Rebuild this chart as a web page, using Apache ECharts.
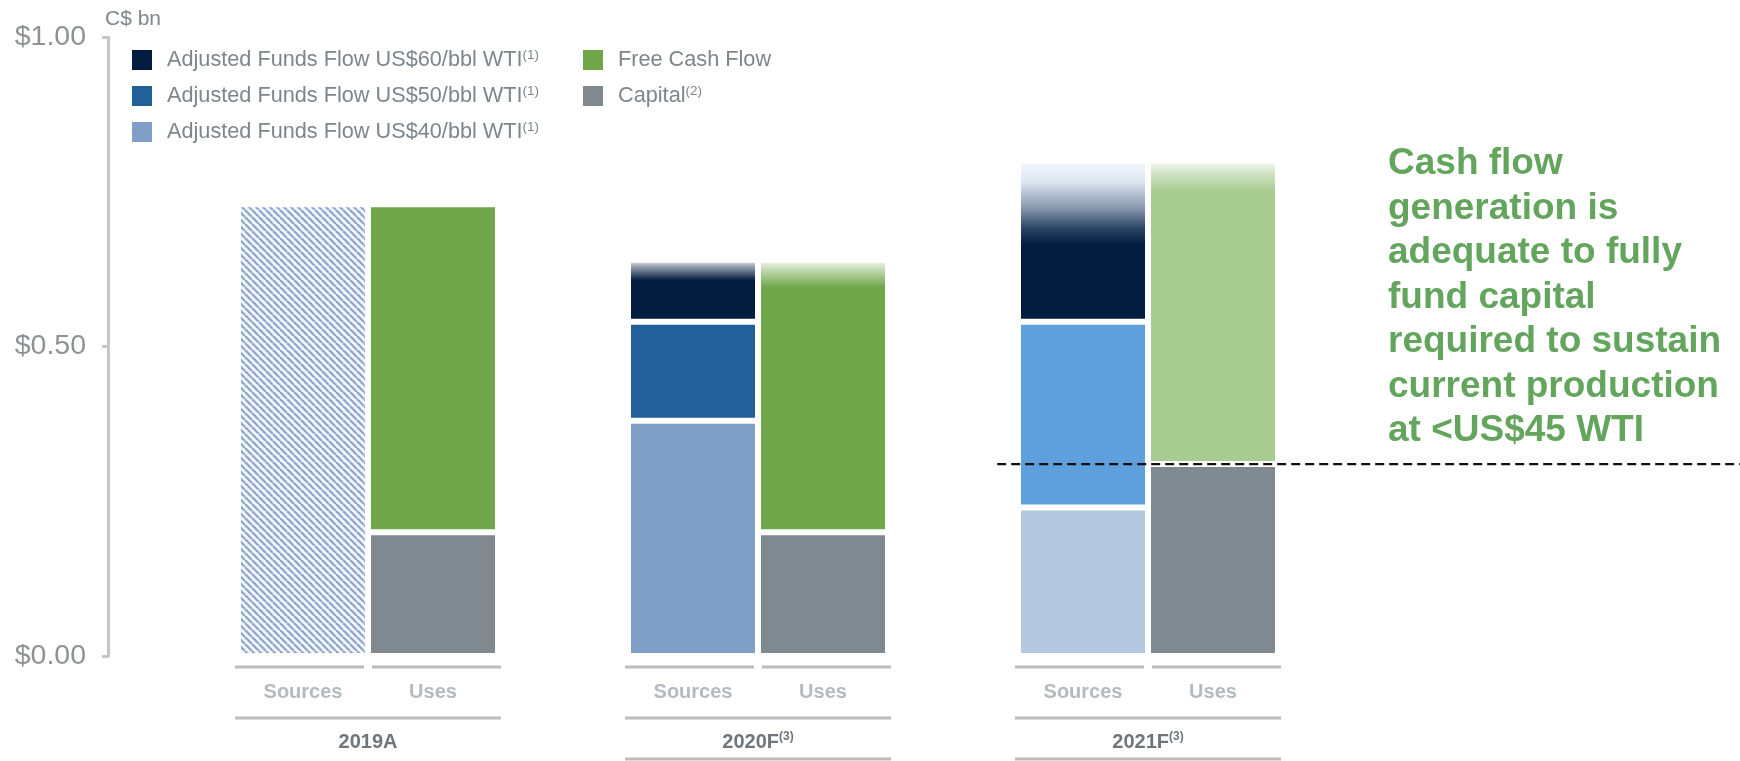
<!DOCTYPE html>
<html><head><meta charset="utf-8">
<script src="https://cdn.jsdelivr.net/npm/echarts@6/dist/echarts.min.js"></script>
<style>html,body{margin:0;padding:0;background:#fff}#c{width:1740px;height:761px}</style>
</head><body><div id="c"></div>
<script>
// ---------------- data ----------------
const years = ['2019A', '2020F', '2021F'];
const yearNotes = ['', '(3)', '(3)'];
const sides = ['Sources', 'Uses'];
const yTicks = [0, 0.5, 1.0];
const unitLabel = 'C$ bn';
const actualAff = [0.73, null, null];   // 2019A sources (hatched)
const aff40 = [null, 0.38, 0.24];
const aff50 = [null, 0.16, 0.30];
const aff60 = [null, 0.10, 0.26];
const capital = [0.20, 0.20, 0.31];
const fcf = [0.53, 0.44, 0.49];
const breakevenCapital = 0.31;
const seriesNames = ['Adjusted Funds Flow US$60/bbl WTI', 'Adjusted Funds Flow US$50/bbl WTI', 'Adjusted Funds Flow US$40/bbl WTI', 'Free Cash Flow', 'Capital'];
const seriesNotes = ['(1)', '(1)', '(1)', '', '(2)'];
const annotationLines = ['Cash flow', 'generation is', 'adequate to fully', 'fund capital', 'required to sustain', 'current production', 'at <US$45 WTI'];

// ---------------- styles ----------------
const FONT = 'Liberation Sans';
const COL = {
  navy: '#031d40', blue: '#22609a', lblue: '#7f9fc6',
  blue21: '#5fa0dc', lblue21: '#b3c7df',
  green: '#70a74b', green21: '#a8cb92', grey: '#7f898f'
};
function grad(stops) {
  return { type: 'linear', x: 0, y: 0, x2: 0, y2: 1, global: false,
    colorStops: stops.map(s => ({ offset: s[0], color: s[1] })) };
}
const navyFade20 = grad([[0, 'rgba(3,29,64,0.06)'], [0.12, 'rgba(3,29,64,0.45)'], [0.33, COL.navy], [1, COL.navy]]);
const navyFade21 = grad([[0, '#f6f9fd'], [0.13, '#dde6f1'], [0.30, '#8494ab'], [0.42, '#2a4565'], [0.52, COL.navy], [1, COL.navy]]);
const greenFade20 = grad([[0, 'rgba(112,167,75,0.08)'], [0.05, 'rgba(112,167,75,0.55)'], [0.1, COL.green], [1, COL.green]]);
const greenFade21 = grad([[0, 'rgba(168,203,146,0.1)'], [0.05, 'rgba(168,203,146,0.6)'], [0.1, COL.green21], [1, COL.green21]]);

// hatch pattern for 2019A sources
const hatch = document.createElement('canvas');
hatch.width = 7; hatch.height = 7;
(function () {
  const g = hatch.getContext('2d');
  g.fillStyle = '#f1f5fc'; g.fillRect(0, 0, 7, 7);
  g.strokeStyle = '#8ea4cd'; g.lineWidth = 2.2;
  for (let k = -1; k <= 1; k++) { g.beginPath(); g.moveTo(k * 7, 0); g.lineTo(k * 7 + 7, 7); g.stroke(); }
})();

// ---------------- categories ----------------
const xCats = [];
years.forEach((y, i) => {
  xCats.push(y + '|' + sides[0]);
  xCats.push(y + '|' + sides[1]);
  if (i < years.length - 1) xCats.push('gap' + i);
});
const srcIdx = i => i * 3, useIdx = i => i * 3 + 1;
function place(arr, idxFn, styleFn) {
  const out = xCats.map(() => null);
  arr.forEach((v, i) => {
    if (v == null) return;
    const st = styleFn ? styleFn(i) : null;
    out[idxFn(i)] = st ? { value: v, itemStyle: st } : v;
  });
  return out;
}
const barBase = { type: 'bar', stack: 'total', barWidth: 130, silent: true,
  itemStyle: { borderColor: '#ffffff', borderWidth: 3 } };
function bar(name, color, data) {
  return Object.assign({}, barBase, { name, data, itemStyle: Object.assign({}, barBase.itemStyle, { color }) });
}

const series = [
  bar('Adjusted Funds Flow 2019A', { image: hatch, repeat: 'repeat' }, place(actualAff, srcIdx)),
  bar(seriesNames[2], COL.lblue, place(aff40, srcIdx, i => i === 2 ? { color: COL.lblue21 } : null)),
  bar(seriesNames[1], COL.blue, place(aff50, srcIdx, i => i === 2 ? { color: COL.blue21 } : null)),
  bar(seriesNames[0], COL.navy, place(aff60, srcIdx, i => i === 1 ? { color: navyFade20 } : i === 2 ? { color: navyFade21 } : null)),
  bar(seriesNames[4], COL.grey, place(capital, useIdx)),
  bar(seriesNames[3], COL.green, place(fcf, useIdx, i => i === 1 ? { color: greenFade20 } : i === 2 ? { color: greenFade21 } : null)),
  {
    type: 'custom', name: 'rows', silent: true, clip: false,
    data: years.map((y, i) => [srcIdx(i), 0, i]),
    encode: { x: 0, y: 1 },
    renderItem(params, api) {
      const i = api.value(2);
      const p = api.coord([api.value(0), 0]);
      const band = api.size([1, 0])[0];
      const xc = p[0] + band / 2, y0 = p[1];
      const ls = { stroke: '#bcbcbc', lineWidth: 3 };
      const ch = [
        { type: 'line', shape: { x1: xc - 133, y1: y0 + 11, x2: xc - 4, y2: y0 + 11 }, style: ls },
        { type: 'line', shape: { x1: xc + 4, y1: y0 + 11, x2: xc + 133, y2: y0 + 11 }, style: ls },
        { type: 'line', shape: { x1: xc - 133, y1: y0 + 62, x2: xc + 133, y2: y0 + 62 }, style: ls },
        { type: 'text', x: xc, y: y0 + 86, style: {
          text: '{y|' + years[i] + '}' + (yearNotes[i] ? '{s|' + yearNotes[i] + '}' : ''),
          align: 'center', verticalAlign: 'middle',
          rich: {
            y: { fontFamily: FONT, fontSize: 20, fontWeight: 'bold', fill: '#6e767b', lineHeight: 22 },
            s: { fontFamily: FONT, fontSize: 12, fontWeight: 'bold', fill: '#6e767b', lineHeight: 12, verticalAlign: 'top' }
          } } }
      ];
      if (i > 0) ch.push({ type: 'line', shape: { x1: xc - 133, y1: y0 + 103, x2: xc + 133, y2: y0 + 103 }, style: ls });
      return { type: 'group', children: ch };
    }
  },
  {
    type: 'custom', name: 'breakeven', silent: true, clip: false, z: 5,
    data: [[srcIdx(2), breakevenCapital]],
    encode: { x: 0, y: 1 },
    renderItem(params, api) {
      const p = api.coord([api.value(0), api.value(1)]);
      const band = api.size([1, 0])[0];
      return { type: 'line', shape: { x1: p[0] - band * 0.66, y1: p[1], x2: api.getWidth(), y2: p[1] },
        style: { stroke: '#111111', lineWidth: 2.4, lineDash: [9, 5] } };
    }
  }
];

function legendFmt(name) {
  const k = seriesNames.indexOf(name);
  return '{t|' + name + '}' + (seriesNotes[k] ? '{s|' + seriesNotes[k] + '}' : '');
}
const legendText = {
  color: '#7d868c', fontFamily: FONT, fontSize: 21.7,
  rich: {
    t: { fontFamily: FONT, fontSize: 21.7, color: '#7d868c', lineHeight: 24, padding: [0, 0, 0, 9] },
    s: { fontFamily: FONT, fontSize: 13.5, color: '#7d868c', lineHeight: 13, verticalAlign: 'top' }
  }
};
const legendBase = { orient: 'vertical', top: 48, padding: 0, itemWidth: 22, itemHeight: 22, itemGap: 12,
  icon: 'rect', selectedMode: false, formatter: legendFmt, textStyle: legendText };

const chart = echarts.init(document.getElementById('c'), null, { renderer: 'canvas' });
chart.setOption({
  animation: false,
  backgroundColor: '#ffffff',
  textStyle: { fontFamily: FONT },
  grid: { left: 238, width: 1040, top: 37, height: 619, outerBoundsMode: 'none', containLabel: false },
  legend: [
    Object.assign({}, legendBase, { left: 130, data: seriesNames.slice(0, 3) }),
    Object.assign({}, legendBase, { left: 581, data: seriesNames.slice(3) })
  ],
  xAxis: {
    type: 'category', data: xCats,
    axisLine: { show: false }, axisTick: { show: false }, splitLine: { show: false },
    axisLabel: { interval: 0, margin: 26, fontSize: 20, fontWeight: 'bold', color: '#b3bac0', fontFamily: FONT,
      formatter: v => v.indexOf('|') >= 0 ? v.split('|')[1] : '' }
  },
  yAxis: {
    type: 'value', min: yTicks[0], max: yTicks[yTicks.length - 1], interval: yTicks[1] - yTicks[0], offset: 130,
    axisLine: { show: true, lineStyle: { color: '#c6c6c6', width: 3 } },
    axisTick: { show: true, length: 6, lineStyle: { color: '#c6c6c6', width: 3 } },
    splitLine: { show: false },
    axisLabel: { margin: 22, fontSize: 28.5, color: '#8f9295', fontFamily: FONT, formatter: v => '$' + v.toFixed(2) }
  },
  graphic: [
    { type: 'text', left: 105, top: 9, silent: true,
      style: { text: unitLabel, fontFamily: FONT, fontSize: 21, fill: '#7f878c' } },
    { type: 'text', left: 1388, top: 142, silent: true,
      style: { text: annotationLines.join('\n'), fontFamily: FONT, fontSize: 37, fontWeight: 'bold', lineHeight: 44.5, fill: '#63a55d' } }
  ],
  series
});
</script></body></html>
